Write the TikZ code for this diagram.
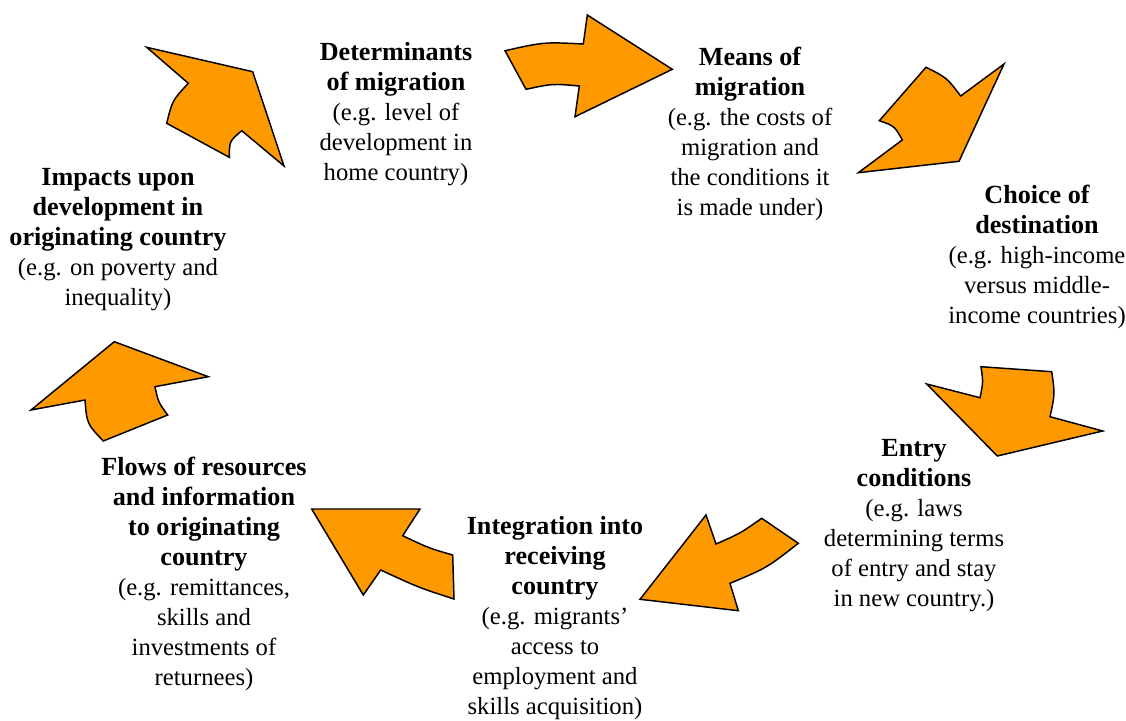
\documentclass[tikz,border=0pt]{standalone}
\usepackage{fontspec}
\setmainfont{Liberation Serif}
\definecolor{arrowfill}{RGB}{255,153,0}
\tikzset{
  stage/.style={align=center, inner sep=0pt,
                font=\fontsize{18.5}{22.5}\selectfont},
  cyclearrow/.style={draw=black, line width=1.1pt, fill=arrowfill,
                     line join=miter},
}
\newcommand{\hd}[1]{{\fontsize{19.6}{22.5}\selectfont\bfseries #1}}

\begin{document}
\begin{tikzpicture}[x=0.75pt, y=-0.75pt]
        \useasboundingbox (0,0) rectangle (1126,720);
        \node[stage] (det) at (396,114)
              {\hd{Determinants}\\\hd{of migration}\\(e.g. level of\\development in\\home country)};
        \node[stage] (means) at (750,133.5)
              {\hd{Means of}\\\hd{migration}\\(e.g. the costs of\\migration and\\the conditions it\\is made under)};
        \node[stage] (choice) at (1037,256.5)
              {\hd{Choice of}\\\hd{destination}\\(e.g. high-income\\versus middle-\\income countries)};
        \node[stage] (entry) at (914,526)
              {\hd{Entry}\\\hd{conditions}\\(e.g. laws\\determining terms\\of entry and stay\\in new country.)};
        \node[stage] (integ) at (555,618.5)
              {\hd{Integration into}\\\hd{receiving}\\\hd{country}\\(e.g. migrants'\\access to\\employment and\\skills acquisition)};
        \node[stage] (flows) at (204,574)
              {\hd{Flows of resources}\\\hd{and information}\\\hd{to originating}\\\hd{country}\\(e.g. remittances,\\skills and\\investments of\\returnees)};
        \node[stage] (impacts) at (118,240)
              {\hd{Impacts upon}\\\hd{development in}\\\hd{originating country}\\(e.g. on poverty and\\inequality)};

        \draw[cyclearrow] (146.7,47.3) -- (252.7,71.7) -- (284,166) -- (241.7,130.7)
              .. controls (229.4,141.2) .. (229.3,157.3) -- (166.7,123.3)
              .. controls (172.3,100.5) .. (188.3,83.3) -- cycle;
        \draw[cyclearrow] (505,50.7) .. controls (544,42) .. (583.3,44) -- (587.3,15)
              -- (672.3,69.3) -- (575,116.7) -- (579.3,86)
              .. controls (552.7,83.6) .. (526,89.3) -- cycle;
        \draw[cyclearrow] (926,67.3) .. controls (946.7,77.6) .. (960.7,96) -- (1004,64)
              -- (959,161.3) -- (858.3,172.7) -- (902.3,140)
              .. controls (894.5,126) .. (879.3,120.7) -- cycle;
        \draw[cyclearrow] (926.7,384) -- (980,397.7) .. controls (983.2,382) .. (981,366.7)
              -- (1051.7,371.7) .. controls (1055,394) .. (1050,416.7)
              -- (1102.7,431) -- (997.3,456) -- cycle;
        \draw[cyclearrow] (706,515) -- (716,544) .. controls (740,533.5) .. (761.7,518.3)
              -- (798.3,543.3) .. controls (766.8,567.9) .. (730,583.3)
              -- (738.3,610.7) -- (640,599.3) -- cycle;
        \draw[cyclearrow] (311.7,509) -- (420,509) -- (402.7,535.7)
              .. controls (428.5,548) .. (452.7,555) -- (454,599)
              .. controls (418.5,587.5) .. (380.7,570) -- (363.3,595) -- cycle;
        \draw[cyclearrow] (31,410) -- (114.3,341.7) -- (208.3,376.7) -- (155,386.7)
              .. controls (158.3,402.2) .. (167.7,415) -- (103.3,441)
              .. controls (86.9,423.8) .. (85,400) -- cycle;
\end{tikzpicture}
\end{document}
